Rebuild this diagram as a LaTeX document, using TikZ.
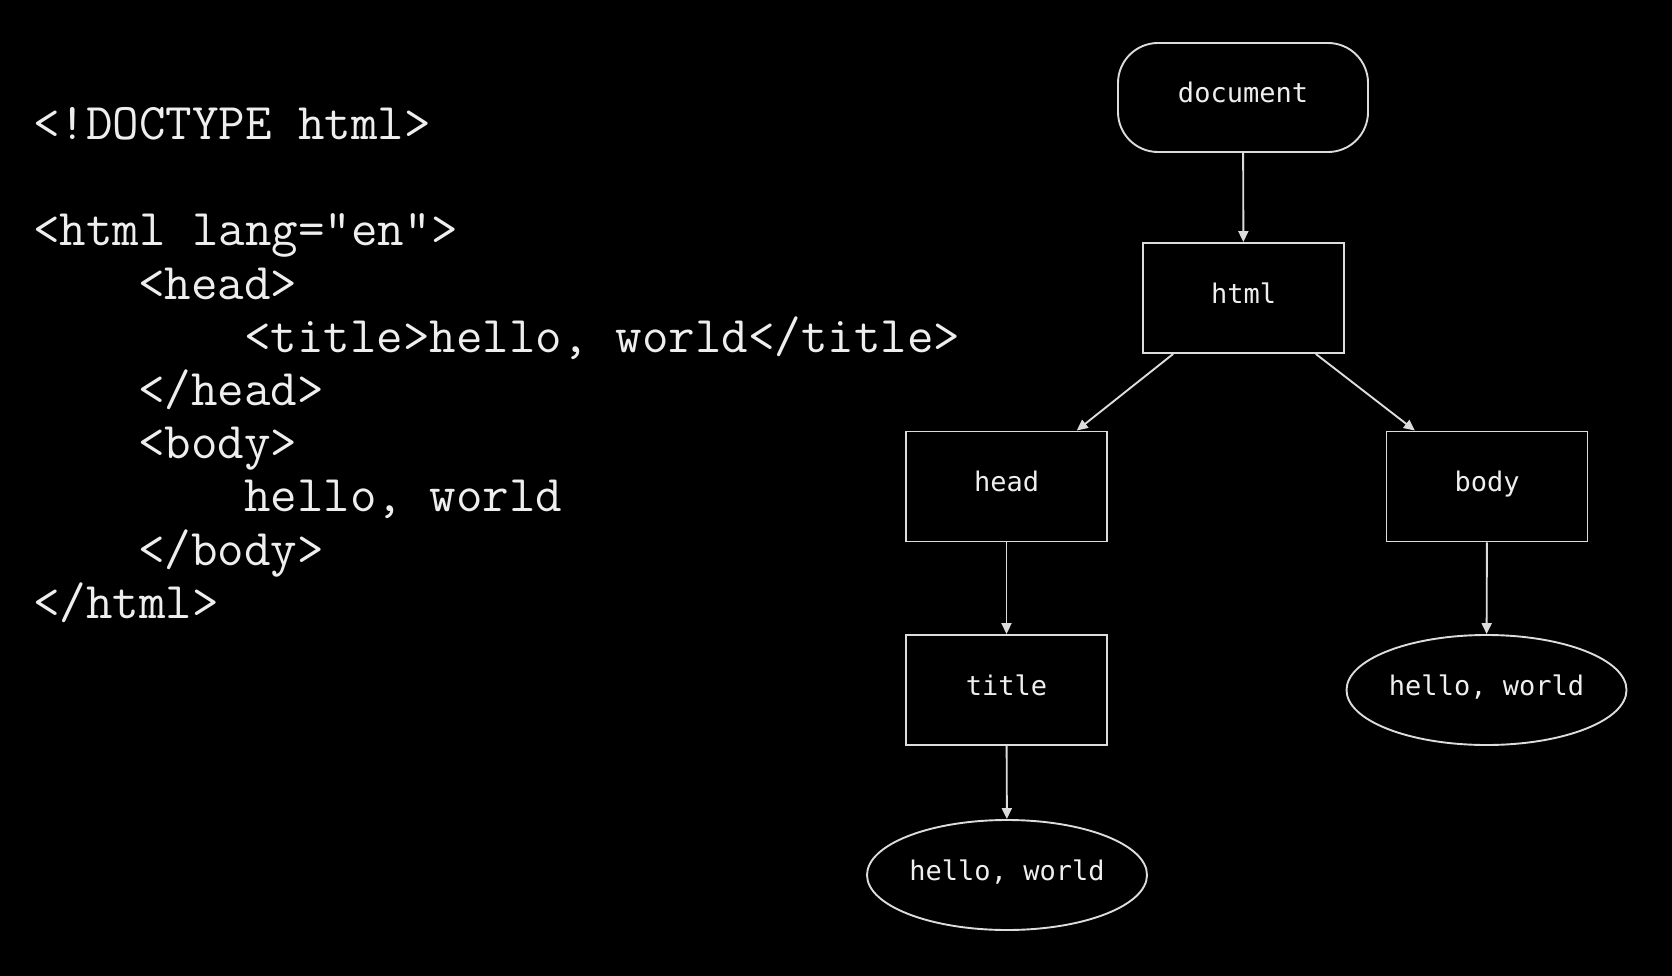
\documentclass[tikz,border=0pt]{standalone}
\usepackage{fontspec}
\usetikzlibrary{shapes.geometric,arrows.meta}
\newfontfamily\codefont{Latin Modern Mono}
\newfontfamily\nodefont{DejaVu Sans Mono}
\definecolor{fg}{HTML}{EEEEEE}
\definecolor{ln}{HTML}{DCDCDC}
\tikzset{
  code/.style={anchor=base west, inner sep=0pt, text=fg, font=\codefont\fontsize{51.5}{56}\selectfont},
  base/.style={draw=ln, line width=1.9pt, text=fg, inner sep=0pt, text height=17pt, text depth=6.6pt, font=\nodefont\fontsize{27}{30}\selectfont},
  box/.style={base, rectangle, minimum width=201pt, minimum height=110pt},
  pill/.style={base, rectangle, rounded corners=40pt, minimum width=250pt, minimum height=109pt},
  oval/.style={base, ellipse, minimum width=280pt, minimum height=110pt},
  arr/.style={draw=ln, line width=1.9pt, -{Triangle[length=11pt,width=10pt]}}
}
\begin{document}
\begin{tikzpicture}[x=1pt,y=-1pt]
\fill[black] (0,0) rectangle (1672,976);
\useasboundingbox (0,0) rectangle (1672,976);
% code
\node[code] (c1) at (33,140) {<!DOCTYPE html>};
\node[code] (c2) at (33,246) {<html lang="en">};
\node[code] (c3) at (138,299) {<head>};
\node[code] (c4) at (244,352) {<title>hello, world</title>};
\node[code] (c5) at (138,405) {</head>};
\node[code] (c6) at (138,458) {<body>};
\node[code] (c7) at (244,511) {hello, world};
\node[code] (c8) at (138,565) {</body>};
\node[code] (c9) at (33,618) {</html>};
% tree
\node[pill] (doc) at (1243,97.5) {document};
\node[box] (html) at (1243.5,298) {html};
\node[box] (head) at (1006.5,486.5) {head};
\node[box] (body) at (1487,486.5) {body};
\node[box] (title) at (1006.5,690) {title};
\node[oval] (t1) at (1007,875) {hello, world};
\node[oval] (t2) at (1486.5,690) {hello, world};
\draw[arr] (doc) -- (html);
\draw[arr] (html) -- (head);
\draw[arr] (html) -- (body);
\draw[arr] (head) -- (title);
\draw[arr] (title) -- (t1);
\draw[arr] (body) -- (t2);
\end{tikzpicture}
\end{document}
